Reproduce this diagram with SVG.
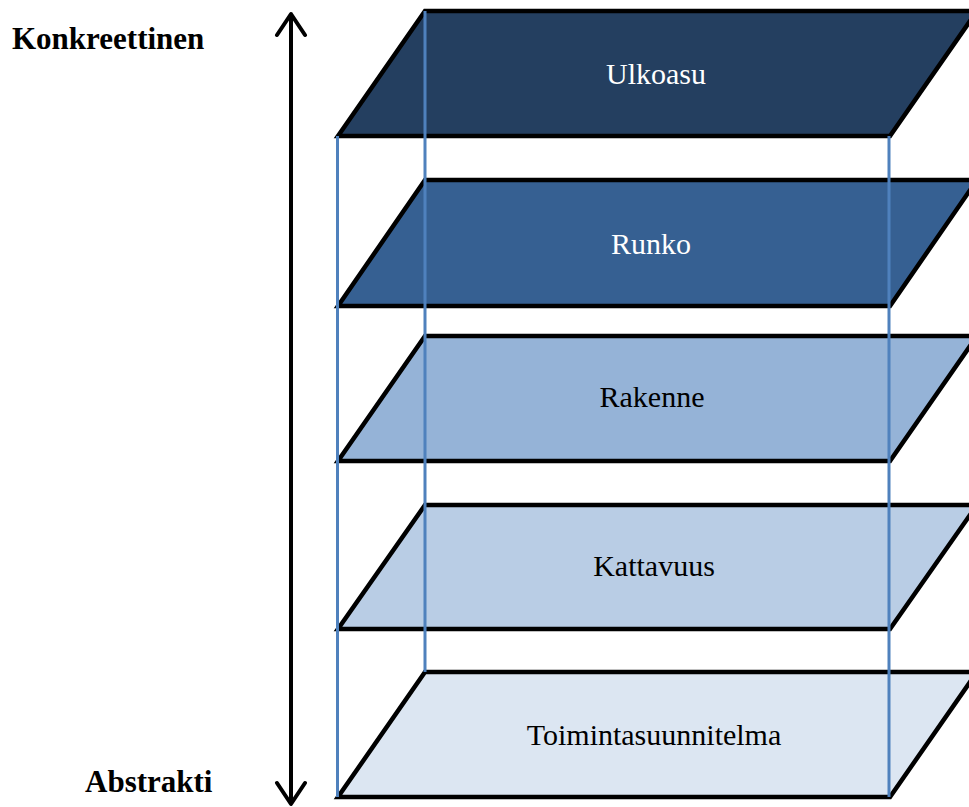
<svg xmlns="http://www.w3.org/2000/svg" width="969" height="807" viewBox="0 0 969 807">
<style>
.plane{stroke:#000;stroke-width:4.5;stroke-linejoin:miter}
.lbl{font-family:"Liberation Serif","Times New Roman",serif;font-size:30px;text-anchor:middle}
.side{font-family:"Liberation Serif","Times New Roman",serif;font-size:31px;font-weight:bold}
.edge{stroke:#4F81BD;stroke-width:3;fill:none}
.arr{stroke:#000;stroke-width:4;fill:none;stroke-linecap:round;stroke-linejoin:round}
</style>
<rect width="969" height="807" fill="#fff"/>
<g id="layer-toimintasuunnitelma">
<polygon class="plane" points="425,672 977,672 890,797 338,797" fill="#DCE6F2"/>
<text class="lbl" x="654" y="745" fill="#000">Toimintasuunnitelma</text>
</g>
<g id="layer-kattavuus">
<polygon class="plane" points="425,505 977,505 890,629 338,629" fill="#B9CDE5"/>
<text class="lbl" x="654" y="576" fill="#000">Kattavuus</text>
</g>
<g id="layer-rakenne">
<polygon class="plane" points="425,336 977,336 890,461 338,461" fill="#95B3D7"/>
<text class="lbl" x="652" y="407" fill="#000">Rakenne</text>
</g>
<g id="layer-runko">
<polygon class="plane" points="425,180 977,180 890,306 338,306" fill="#366092"/>
<text class="lbl" x="651" y="254" fill="#fff">Runko</text>
</g>
<g id="layer-ulkoasu">
<polygon class="plane" points="425,11 977,11 890,136 338,136" fill="#243F60"/>
<text class="lbl" x="656" y="84" fill="#fff">Ulkoasu</text>
</g>
<g id="connectors">
<line class="edge" x1="337.5" y1="136" x2="337.5" y2="797"/>
<line class="edge" x1="425" y1="11" x2="425" y2="672"/>
<line class="edge" x1="889" y1="136" x2="889" y2="797"/>
<path class="arr" d="M291,15 L291,803 M277,35 L291,14 L305,35 M277,783 L291,804 L305,783"/>
</g>
<g id="labels">
<text class="side" x="12" y="49" fill="#000">Konkreettinen</text>
<text class="side" x="85" y="792" fill="#000">Abstrakti</text>
</g>
</svg>
